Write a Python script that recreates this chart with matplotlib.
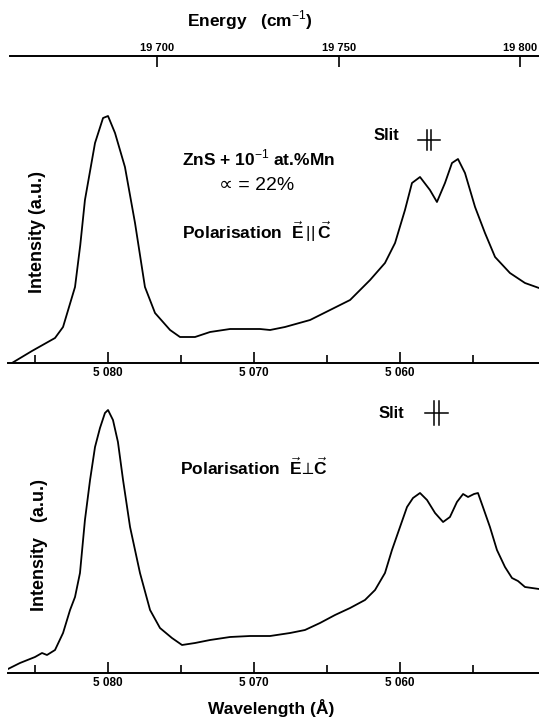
import matplotlib
matplotlib.use("Agg")
import matplotlib.pyplot as plt
from matplotlib.ticker import FixedLocator

plt.rcParams['font.family'] = ['Liberation Sans', 'DejaVu Sans']
plt.rcParams['mathtext.fontset'] = 'custom'
plt.rcParams['mathtext.rm'] = 'Liberation Sans'
plt.rcParams['mathtext.bf'] = 'Liberation Sans:bold'

# E || C spectrum (wavelength in Angstrom, intensity in a.u.)
wl_par = [5086.58, 5085.21, 5083.63, 5083.08, 5082.26, 5081.90, 5081.58, 5080.89, 5080.34,
          5080.00, 5079.52, 5078.84, 5078.15, 5077.47, 5076.78, 5075.75, 5075.07, 5074.04,
          5073.01, 5071.64, 5069.59, 5068.90, 5067.88, 5066.16, 5064.79, 5063.42, 5062.05,
          5061.03, 5060.34, 5059.66, 5059.18, 5058.63, 5057.95, 5057.47, 5056.92, 5056.44,
          5056.03, 5055.55, 5054.86, 5054.18, 5053.49, 5052.47, 5051.44, 5050.48]
int_par = [0, 12, 25, 36, 76, 118, 163, 220, 245,
           247, 230, 196, 140, 76, 50, 33, 26, 26,
           31, 34, 34, 33, 36, 43, 53, 63, 83,
           100, 120, 153, 180, 186, 173, 161, 180, 200,
           204, 190, 156, 130, 106, 90, 80, 75]

# E perp C spectrum
wl_perp = [5086.99, 5086.03, 5085.00, 5084.52, 5084.18, 5083.63, 5083.08, 5082.60, 5082.26,
           5081.92, 5081.58, 5081.23, 5080.89, 5080.55, 5080.21, 5080.00, 5079.66, 5079.32,
           5078.97, 5078.49, 5077.81, 5077.12, 5076.44, 5075.62, 5074.93, 5074.04, 5073.01,
           5071.64, 5070.27, 5068.90, 5067.53, 5066.51, 5065.48, 5064.45, 5063.42, 5062.40,
           5061.71, 5061.03, 5060.55, 5060.00, 5059.52, 5059.11, 5058.63, 5058.15, 5057.60,
           5057.05, 5056.58, 5056.10, 5055.68, 5055.34, 5054.93, 5054.66, 5054.32, 5053.84,
           5053.36, 5052.81, 5052.33, 5051.92, 5051.44, 5050.48]
int_perp = [3, 10, 16, 20, 18, 23, 40, 63, 76,
            100, 153, 193, 226, 245, 260, 263, 253, 231,
            193, 146, 100, 63, 45, 35, 28, 30, 33,
            36, 37, 37, 40, 43, 50, 58, 65, 73,
            83, 100, 123, 146, 166, 175, 180, 173, 160,
            151, 156, 171, 179, 176, 179, 180, 166, 146,
            123, 106, 95, 92, 86, 84]

wl_major = [5080, 5070, 5060]
wl_minor = [5085, 5075, 5065, 5055]
wl_labels = ['5 080', '5 070', '5 060']
en_ticks = [19700, 19750, 19800]
en_labels = ['19 700', '19 750', '19 800']

W, H = 539, 721
fig = plt.figure(figsize=(W / 100, H / 100), dpi=100)


def px_axes(x0, y_top, x1, y_bot):
    return fig.add_axes([x0 / W, 1 - y_bot / H, (x1 - x0) / W, (y_bot - y_top) / H])


def style_wl(ax):
    for s in ['top', 'left', 'right']:
        ax.spines[s].set_visible(False)
    ax.spines['bottom'].set_linewidth(1.4)
    ax.set_xlim(5086.85, 5050.48)
    ax.set_yticks([])
    ax.xaxis.set_major_locator(FixedLocator(wl_major))
    ax.xaxis.set_minor_locator(FixedLocator(wl_minor))
    ax.set_xticklabels(wl_labels, fontsize=8.5, fontweight='bold')
    ax.tick_params(axis='x', which='major', direction='in', length=8, width=1.2, pad=3)
    ax.tick_params(axis='x', which='minor', direction='in', length=6, width=1.2)
    ax.patch.set_visible(False)


def slit(ax, x, y, half_w, half_h, gap):
    ax.plot([x - half_w, x + half_w], [y, y], color='black', lw=1.1, clip_on=False)
    for dx in (-gap, gap):
        ax.plot([x + dx, x + dx], [y - half_h, y + half_h], color='black', lw=1.1, clip_on=False)


# energy axis on top
ax_e = px_axes(10, 56, 539, 76)
for s in ['bottom', 'left', 'right']:
    ax_e.spines[s].set_visible(False)
ax_e.spines['top'].set_linewidth(1.4)
ax_e.patch.set_visible(False)
ax_e.set_yticks([])
ax_e.set_xlim(19659.5, 19805.2)
ax_e.xaxis.tick_top()
ax_e.set_xticks(en_ticks)
ax_e.set_xticklabels(en_labels, fontsize=8, fontweight='bold')
ax_e.tick_params(axis='x', direction='in', length=8, width=1.2, pad=2)
fig.text(250 / W, 1 - 20 / H, 'Energy   (cm$^{-1}$)', ha='center', va='center',
         fontsize=12.5, fontweight='bold')

# top panel: E || C
ax1 = px_axes(8, 80, 539, 363)
ax1.plot(wl_par, int_par, color='black', lw=1.3)
ax1.set_ylim(0, 283)
style_wl(ax1)
ax1.text(5074.9, 205, 'ZnS + 10$^{-1}$ at.%Mn', ha='left', va='center',
         fontsize=12.5, fontweight='bold')
ax1.text(5069.8, 177, '∝ = 22%', ha='center', va='center', fontsize=14)
ax1.text(5074.9, 131, r'Polarisation  $\vec{\mathbf{E}}\,||\,\vec{\mathbf{C}}$',
         ha='left', va='center', fontsize=12.5, fontweight='bold')
ax1.text(5061.8, 228, 'Slit', ha='left', va='center', fontsize=12, fontweight='bold')
slit(ax1, 5058.0, 223, 0.75, 10, 0.12)
fig.text(38 / W, 1 - 232 / H, 'Intensity (a.u.)', rotation=90, ha='center', va='center',
         fontsize=13, fontweight='bold')

# bottom panel: E perp C
ax2 = px_axes(8, 395, 539, 673)
ax2.plot(wl_perp, int_perp, color='black', lw=1.3)
ax2.set_ylim(0, 278)
style_wl(ax2)
ax2.text(5075.1, 206, r'Polarisation  $\vec{\mathbf{E}}\!\perp\!\vec{\mathbf{C}}$',
         ha='left', va='center', fontsize=12.5, fontweight='bold')
ax2.text(5061.5, 260, 'Slit', ha='left', va='center', fontsize=12, fontweight='bold')
slit(ax2, 5057.5, 260, 0.8, 12, 0.14)
fig.text(40 / W, 1 - 545 / H, 'Intensity   (a.u.)', rotation=90, ha='center', va='center',
         fontsize=13, fontweight='bold')

fig.text(271 / W, 1 - 708 / H, 'Wavelength (Å)', ha='center', va='center',
         fontsize=12.5, fontweight='bold')

fig.savefig('out.png', dpi=100)
